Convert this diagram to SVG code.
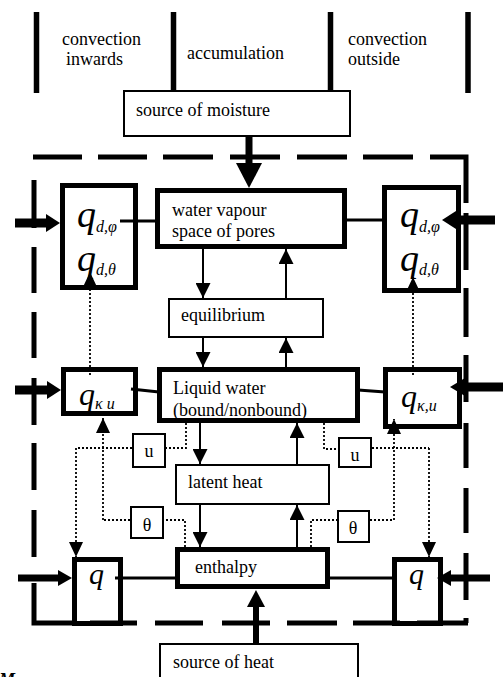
<svg xmlns="http://www.w3.org/2000/svg" width="503" height="677" viewBox="0 0 503 677" font-family="'Liberation Serif', 'Times New Roman', 'DejaVu Serif', serif">
<style>
text{font-family:'Liberation Serif','Times New Roman','DejaVu Serif',serif;fill:#000}
.t{font-size:18px}
.c{text-anchor:middle}
.q{font-style:italic}
.sub{font-style:italic;font-size:16px}
.thick{fill:#fff;stroke:#000;stroke-width:5}
.frame{fill:none;stroke:#000;stroke-width:5}
.thin{fill:#fff;stroke:#000;stroke-width:2}
.bar{stroke:#000;stroke-width:5.5;fill:none}
.dash{stroke:#000;stroke-width:5;fill:none}
.link{stroke:#000;stroke-width:3;fill:none}
.arr{stroke:#000;stroke-width:2;fill:none;marker-end:url(#ah)}
.dot{stroke:#000;stroke-width:1.8;stroke-dasharray:2 2;fill:none}
.dota{stroke:#000;stroke-width:1.8;stroke-dasharray:2 2;fill:none;marker-end:url(#dh)}
.head{fill:#000}
</style>
<defs>
<marker id="ah" markerUnits="userSpaceOnUse" markerWidth="15" markerHeight="15" refX="15" refY="7.5" orient="auto"><path d="M0,0 L15,7.5 L0,15 z" fill="#000"/></marker>
<marker id="dh" markerUnits="userSpaceOnUse" markerWidth="15" markerHeight="14" refX="15" refY="7" orient="auto"><path d="M0,0 L15,7 L0,14 z" fill="#000"/></marker>
</defs>

<g id="header">
<path class="bar" d="M36.5,12V93M173.5,12V93M330.5,12V93M468,12V93"/>
<text class="t" x="62" y="45">convection</text>
<text class="t" x="66" y="65">inwards</text>
<text class="t" x="187" y="59">accumulation</text>
<text class="t" x="348" y="45">convection</text>
<text class="t" x="348" y="65">outside</text>
</g>

<g id="boundary">
<path class="dash" d="M33,157H82M98,157H147M163,157H213M230,157H280M297,157H347M363,157H413M430,157H466V203"/>
<path class="dash" d="M466,213V270M466,288V337M466,355V402M466,423V468M466,488V533M466,553V600M466,618V623"/>
<path class="dash" d="M34,180V228M34,247V293M34,312V358M34,378V425M34,443V490M34,510V557M34,583V623H74"/>
<path class="dash" d="M90,623H137M155,623H203M222,623H270M287,623H337M353,623H400M417,623H468"/>
</g>

<g id="connectors">
<path class="link" style="stroke-width:7" d="M249,137V165"/>
<polygon class="head" points="236,163 262,163 249,188"/>
<path class="link" style="stroke-width:6" d="M256,643V605"/>
<polygon class="head" points="247,607 265,607 256,590"/>
<path class="link" style="stroke-width:9" d="M15,223H48"/>
<polygon class="head" points="46,214 60,223 46,232"/>
<path class="link" style="stroke-width:9" d="M495,220H454"/>
<polygon class="head" points="456,211 442,220 456,229"/>
<path class="link" style="stroke-width:9" d="M15,390H49"/>
<polygon class="head" points="47,381 61,390 47,399"/>
<path class="link" style="stroke-width:9" d="M503,387H462"/>
<polygon class="head" points="465,378 450,387 465,396"/>
<path class="link" style="stroke-width:7" d="M18,578H60"/>
<polygon class="head" points="58,570 72,578 58,586"/>
<path class="link" style="stroke-width:7" d="M490,578H449"/>
<polygon class="head" points="451,570 437,578 451,586"/>
<path class="link" d="M120,221H157"/>
<path class="link" d="M332,220H384"/>
<path class="link" d="M131,389L159,392"/>
<path class="link" d="M358,390L385,392"/>
<path class="link" d="M115,578H177"/>
<path class="link" d="M328,578H394"/>
<path class="arr" d="M203,249V298"/>
<path class="arr" d="M286,298V249"/>
<path class="arr" d="M203,338V367"/>
<path class="arr" d="M286,367V338"/>
<path class="arr" d="M200,423V464"/>
<path class="arr" d="M297,464V423"/>
<path class="arr" d="M200,505V547"/>
<path class="arr" d="M297,547V505"/>
<path class="dota" d="M90,375V272"/>
<path class="dota" d="M413,375V277"/>
<path class="dot" d="M186,423V448H166M132,448H76"/>
<path class="dota" d="M76,448V557"/>
<path class="dot" d="M185,547V520H164M130,520H103"/>
<path class="dota" d="M103,520V418"/>
<path class="dot" d="M324,423V449H338M372,448H429"/>
<path class="dota" d="M429,448V557"/>
<path class="dot" d="M311,547V520H337M370,520H394"/>
<path class="dota" d="M394,520V419"/>
</g>

<g id="source-moisture">
<rect class="thin" x="124" y="91" width="226" height="45"/>
<text class="t" x="136" y="116">source of moisture</text>
</g>
<g id="water-vapour">
<rect class="thick" x="157.5" y="190.5" width="187" height="56"/>
<text class="t" x="172" y="216">water vapour</text>
<text class="t" x="172" y="237">space of pores</text>
</g>
<g id="q-d-left">
<rect class="frame" x="62.5" y="185.5" width="73" height="102"/>
<text class="q" x="77" y="227" font-size="38">q<tspan class="sub" dy="5">d,φ</tspan></text>
<text class="q" x="77" y="271" font-size="38">q<tspan class="sub" dy="4">d,θ</tspan></text>
</g>
<g id="q-d-right">
<rect class="frame" x="384.5" y="187.5" width="74" height="103"/>
<text class="q" x="400" y="227" font-size="38">q<tspan class="sub" dy="5">d,φ</tspan></text>
<text class="q" x="400" y="271" font-size="38">q<tspan class="sub" dy="4">d,θ</tspan></text>
</g>
<g id="equilibrium">
<rect class="thin" x="169" y="299" width="154" height="38"/>
<text class="t" x="181" y="321">equilibrium</text>
</g>
<g id="liquid-water">
<rect class="thick" x="159.5" y="369.5" width="198" height="51"/>
<text class="t" x="173" y="394">Liquid water</text>
<text class="t" x="173" y="416">(bound/nonbound)</text>
</g>
<g id="q-ku-left">
<rect class="frame" x="63.5" y="369.5" width="72" height="44"/>
<text class="q" x="79" y="405" font-size="32">q<tspan class="sub" dy="4">κ u</tspan></text>
</g>
<g id="q-ku-right">
<rect class="frame" x="385.5" y="369.5" width="74" height="57"/>
<text class="q" x="401" y="407" font-size="32">q<tspan class="sub" dy="4">κ,u</tspan></text>
</g>
<g id="u-left">
<rect class="thin" x="133" y="434" width="32" height="33"/>
<text class="t c" x="149" y="457">u</text>
</g>
<g id="u-right">
<rect class="thin" x="339" y="438" width="32" height="29"/>
<text class="t c" x="355" y="461">u</text>
</g>
<g id="latent-heat">
<rect class="thin" x="176" y="465" width="153" height="39"/>
<text class="t" x="188" y="488">latent heat</text>
</g>
<g id="theta-left">
<rect class="thin" x="131" y="507" width="32" height="31"/>
<text class="t c" x="147" y="531">θ</text>
</g>
<g id="theta-right">
<rect class="thin" x="338" y="511" width="31" height="31"/>
<text class="t c" x="353" y="534">θ</text>
</g>
<g id="enthalpy">
<rect class="thick" x="177.5" y="549.5" width="150" height="37"/>
<text class="t" x="195" y="573">enthalpy</text>
</g>
<g id="q-left">
<rect class="frame" x="74.5" y="559.5" width="46" height="64"/>
<text class="q" x="89" y="584" font-size="30">q</text>
</g>
<g id="q-right">
<rect class="frame" x="394.5" y="559.5" width="46" height="64"/>
<text class="q" x="409" y="584" font-size="30">q</text>
</g>
<g id="source-heat">
<rect class="thin" x="160" y="644" width="198" height="50"/>
<text class="t" x="173" y="668">source of heat</text>
</g>
<text x="-1" y="686" font-size="18" font-weight="bold" font-style="italic">M</text>
</svg>
